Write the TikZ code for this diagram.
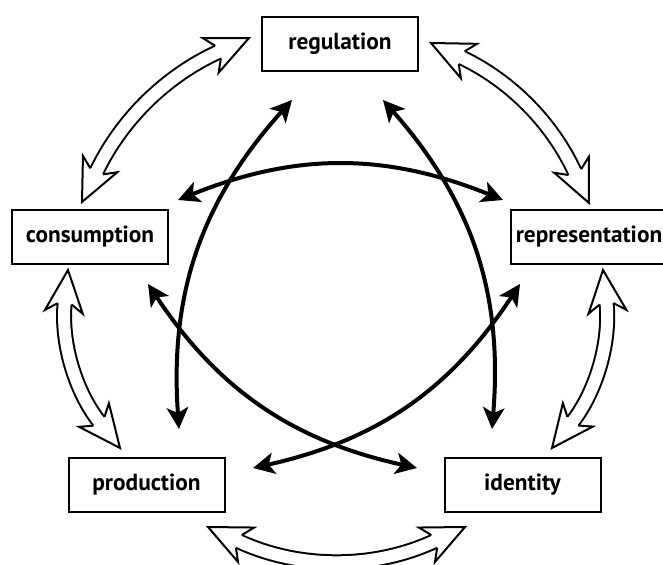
\documentclass[tikz,border=0pt]{standalone}
\usepackage{fontspec}
\setmainfont{PT Sans}
\usetikzlibrary{arrows.meta,decorations.markings}

% open arrow heads, drawn in the path's own frame
\newcommand\headstart{\filldraw[fill=white,draw=black,line width=1.5pt,shorten <=0pt,shorten >=0pt]
  (34,7) -- (42,19) -- (0,0) -- (42,-19) -- (34,-7);}
\newcommand\headend{\filldraw[fill=white,draw=black,line width=1.5pt,shorten <=0pt,shorten >=0pt]
  (-34,7) -- (-42,19) -- (0,0) -- (-42,-19) -- (-34,-7);}

\tikzset{
  box/.style={draw, line width=1.5pt, minimum width=117pt, minimum height=40.5pt,
    inner sep=0pt, font=\fontsize{17.5}{20}\selectfont\bfseries},
  flow/.style={line width=3pt,
    {Stealth[length=16pt,width=16pt,inset=4pt]}-{Stealth[length=16pt,width=16pt,inset=4pt]}},
  hollow/.style={preaction={draw=black, line width=12pt, shorten <=25pt, shorten >=25pt},
    draw=white, line width=9pt, shorten <=25pt, shorten >=25pt,
    postaction={decorate}, decoration={markings,
      mark=at position 0 with {\headstart}, mark=at position 0.9999 with {\headend}}},
}

\begin{document}
\begin{tikzpicture}[x=0.75pt, y=-0.75pt]
    \useasboundingbox (0,0) rectangle (663,564);
    \clip (0,0) rectangle (663,564);
    % Boxes
    \node[box] (reg)  at (340,44)    {regulation};
    \node[box] (cons) at (90,237)    {consumption};
    \node[box] (rep)  at (589,237)   {representation};
    \node[box] (prod) at (146.5,485) {production};
    \node[box] (iden) at (522.5,485) {identity};
    % Ends of the open arrows
    \coordinate (cons-n) at (82,202);
    \coordinate (reg-w)  at (249,38);
    \coordinate (reg-e)  at (431,43);
    \coordinate (rep-n)  at (589,203);
    \coordinate (rep-s)  at (603,270);
    \coordinate (iden-n) at (552,448);
    \coordinate (iden-s) at (465,527);
    \coordinate (prod-s) at (208,527);
    \coordinate (prod-n) at (120,448);
    \coordinate (cons-s) at (68,270);
    % Ends of the black arrows
    \coordinate (reg-sw) at (292,100);
    \coordinate (reg-se) at (383,100);
    \coordinate (prod-ne) at (179,429);
    \coordinate (iden-nw) at (492,429);
    \coordinate (cons-e) at (178,200);
    \coordinate (rep-w)  at (503,200);
    \coordinate (cons-se) at (148,284);
    \coordinate (rep-sw) at (520,284);
    \coordinate (iden-w) at (417,468);
    \coordinate (prod-e) at (253,468);
    % Open arrows round the circuit
    \path[hollow] (cons-n) to[bend left=20] (reg-w);
    \path[hollow] (reg-e) to[bend left=20] (rep-n);
    \path[hollow] (rep-s) to[bend left=22] (iden-n);
    \path[hollow] (iden-s) to[bend left=25] (prod-s);
    \path[hollow] (prod-n) to[bend left=22] (cons-s);
    % Black arrows across
    \draw[flow] (reg-sw) to[bend right=23] (prod-ne);
    \draw[flow] (reg-se) to[bend left=23] (iden-nw);
    \draw[flow] (cons-e) to[bend left=22] (rep-w);
    \draw[flow] (cons-se) to[bend right=22] (iden-w);
    \draw[flow] (rep-sw) to[bend left=22] (prod-e);
\end{tikzpicture}
\end{document}
